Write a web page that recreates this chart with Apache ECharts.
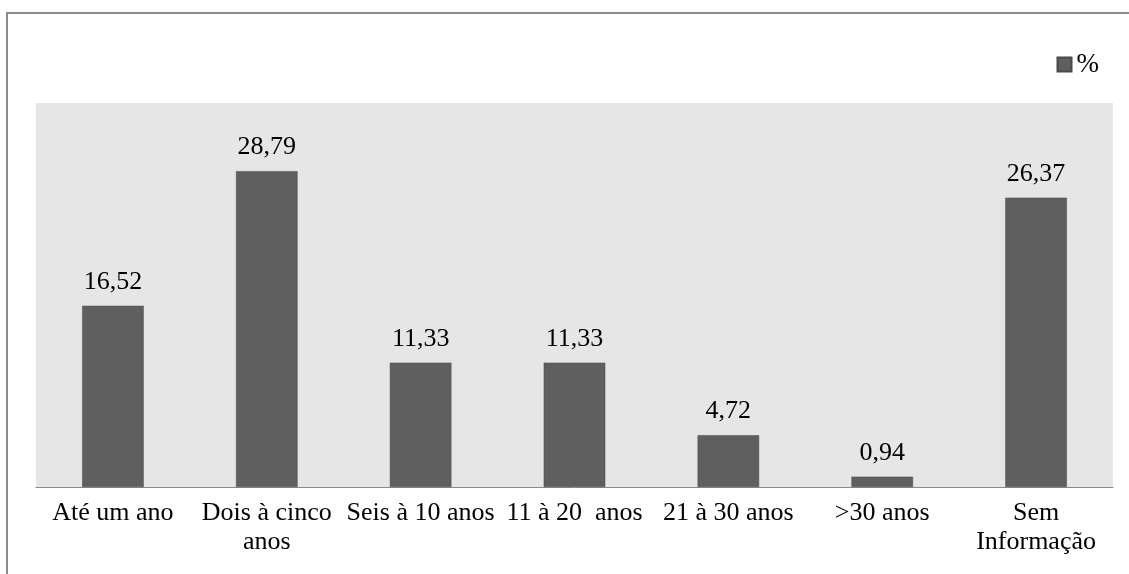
<!DOCTYPE html>
<html>
<head>
<meta charset="utf-8">
<script src="https://cdn.jsdelivr.net/npm/echarts@6/dist/echarts.min.js"></script>
<style>
  html, body { margin: 0; padding: 0; background: #ffffff; }
  #chart { width: 1129px; height: 574px; }
</style>
</head>
<body>
<div id="chart"></div>
<script>
// Tempo de serviço: distribuição percentual por faixa
const categories = ['Até um ano', 'Dois à cinco\nanos', 'Seis à 10 anos', '11 à 20  anos', '21 à 30 anos', '>30 anos', 'Sem\nInformação'];
const percentValues = [16.52, 28.79, 11.33, 11.33, 4.72, 0.94, 26.37];
const seriesName = '%';

const fontFamily = '"Liberation Serif", "DejaVu Serif", serif';
const chart = echarts.init(document.getElementById('chart'), null, { renderer: 'canvas' });

chart.setOption({
  backgroundColor: '#ffffff',
  animation: false,
  graphic: [
    {
      // outer frame (top and left edges)
      type: 'polyline',
      shape: { points: [[7, 600], [7, 13], [1135, 13]] },
      style: { stroke: '#8a8a8a', lineWidth: 2, fill: null }
    }
  ],
  legend: {
    data: [seriesName],
    right: 25,
    top: 46,
    itemWidth: 14,
    itemHeight: 14,
    itemGap: 6,
    textStyle: { fontFamily: fontFamily, fontSize: 27, color: '#000000' },
    icon: 'rect'
  },
  grid: {
    left: 36,
    right: 16,
    top: 103,
    bottom: 87,
    show: true,
    backgroundColor: '#e6e6e6',
    borderWidth: 0
  },
  xAxis: {
    type: 'category',
    data: categories,
    axisLine: { show: true, lineStyle: { color: '#8a8a8a', width: 1 } },
    axisTick: { show: false },
    axisLabel: {
      interval: 0,
      margin: 12,
      fontFamily: fontFamily,
      fontSize: 26,
      lineHeight: 29,
      color: '#000000'
    }
  },
  yAxis: {
    type: 'value',
    min: 0,
    max: 35,
    show: false,
    splitLine: { show: false }
  },
  series: [
    {
      name: seriesName,
      type: 'bar',
      data: percentValues,
      barWidth: '40%',
      itemStyle: { color: '#5f5f5f', borderColor: '#4a4a4a', borderWidth: 0.5 },
      label: {
        show: true,
        position: 'top',
        distance: 11,
        fontFamily: fontFamily,
        fontSize: 26,
        color: '#000000',
        formatter: p => p.value.toFixed(2).replace('.', ',')
      }
    }
  ]
});
</script>
</body>
</html>
